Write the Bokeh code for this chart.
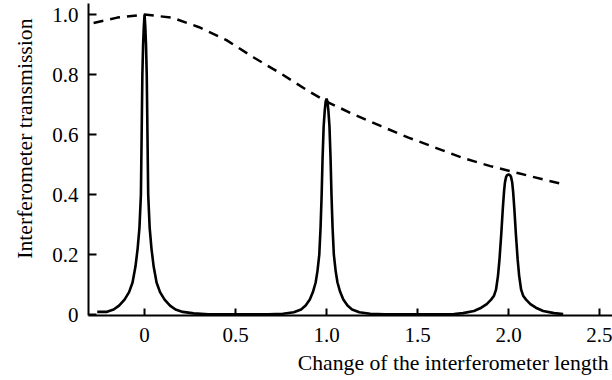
from bokeh.plotting import figure
from bokeh.models import FixedTicker, Range1d, Title
from bokeh.embed import file_html
from bokeh.resources import INLINE

# ---- data ----
x_ticks = [0, 0.5, 1.0, 1.5, 2.0, 2.5]
x_tick_labels = ["0", "0.5", "1.0", "1.5", "2.0", "2.5"]
y_ticks = [0, 0.2, 0.4, 0.6, 0.8, 1.0]
y_tick_labels = ["0", "0.2", "0.4", "0.6", "0.8", "1.0"]

peak_centers = [0.0, 1.0, 2.0]

# half-profiles of each transmission peak: offset from centre, transmission
peak0_dx = [0, 0.004, 0.008, 0.012, 0.016, 0.02, 0.028, 0.038, 0.05, 0.066, 0.085, 0.11, 0.14, 0.17, 0.21, 0.27, 0.35]
peak0_y = [1.0, 0.96, 0.9, 0.8, 0.6, 0.4, 0.29, 0.22, 0.16, 0.107, 0.075, 0.05, 0.03, 0.017, 0.009, 0.004, 0.001]

peak1_dx = [0, 0.005, 0.01, 0.016, 0.022, 0.027, 0.033, 0.04, 0.05, 0.06, 0.075, 0.092, 0.115, 0.14, 0.18, 0.24, 0.32]
peak1_y = [0.72, 0.71, 0.68, 0.627, 0.52, 0.4, 0.29, 0.2, 0.145, 0.107, 0.075, 0.05, 0.03, 0.017, 0.008, 0.003, 0.001]

peak2_dx = [0, 0.008, 0.014, 0.02, 0.025, 0.032, 0.04, 0.05, 0.058, 0.069, 0.08, 0.096, 0.12, 0.15, 0.19, 0.25, 0.3]
peak2_y = [0.467, 0.465, 0.458, 0.44, 0.41, 0.35, 0.27, 0.183, 0.13, 0.083, 0.063, 0.05, 0.035, 0.023, 0.012, 0.005, 0.002]

curve_start = -0.26
curve_end = 2.30

# dashed envelope
env_x = [-0.28, -0.15, 0, 0.15, 0.3, 0.45, 0.6, 0.75, 0.9, 1.0, 1.15, 1.3, 1.45, 1.6, 1.75, 1.9, 2.05, 2.2, 2.3]
env_y = [0.972, 0.99, 1.0, 0.99, 0.958, 0.915, 0.857, 0.803, 0.745, 0.71, 0.667, 0.628, 0.59, 0.556, 0.522, 0.495, 0.472, 0.449, 0.435]

x_label = "Change of the interferometer length"
y_label = "Interferometer transmission"

# ---- build the transmission curve from the peak profiles ----
profiles = [(peak0_dx, peak0_y), (peak1_dx, peak1_y), (peak2_dx, peak2_y)]
cx, cy = [], []
for c, (dx, yy) in zip(peak_centers, profiles):
    left = [(c - d, v) for d, v in zip(dx, yy)][::-1]
    right = [(c + d, v) for d, v in zip(dx[1:], yy[1:])]
    for xv, yv in left + right:
        if curve_start <= xv <= curve_end:
            cx.append(xv)
            cy.append(yv)
cx = [curve_start] + cx + [curve_end]
cy = [cy[0]] + cy + [cy[-1]]

FONT = "Liberation Serif"
FS = "21px"
FS_LABEL = "21.7px"

p = figure(width=612, height=380,
           x_range=Range1d(-0.308, 2.571), y_range=Range1d(-0.003, 1.037),
           output_backend="svg", toolbar_location=None,
           min_border_left=88, min_border_right=0, min_border_top=3, min_border_bottom=65)
p.outline_line_color = None
p.grid.visible = False
p.background_fill_color = "white"
p.border_fill_color = "white"

p.line(env_x, env_y, line_color="black", line_width=2.5, line_dash="10 7")
p.line(cx, cy, line_color="black", line_width=2.6)

for ax in (p.xaxis[0], p.yaxis[0]):
    ax.axis_line_color = "black"
    ax.axis_line_width = 2
    ax.major_tick_line_color = "black"
    ax.major_tick_line_width = 2
    ax.major_tick_out = 0
    ax.minor_tick_line_color = None
    ax.major_label_text_font = FONT
    ax.major_label_text_font_size = FS
    ax.major_label_text_color = "black"

p.xaxis.ticker = FixedTicker(ticks=x_ticks)
p.xaxis.major_label_overrides = {t: l for t, l in zip(x_ticks, x_tick_labels)}
p.xaxis.major_tick_in = 7
p.xaxis.major_label_standoff = 12

p.yaxis.ticker = FixedTicker(ticks=y_ticks)
p.yaxis.major_label_overrides = {t: l for t, l in zip(y_ticks, y_tick_labels)}
p.yaxis.major_tick_in = 8
p.yaxis.major_label_standoff = 10

p.add_layout(Title(text=x_label, align="right", offset=4, standoff=9,
                   text_font=FONT, text_font_size=FS_LABEL, text_font_style="normal",
                   text_color="black"), "below")
p.add_layout(Title(text=y_label, align="right", offset=15, standoff=22,
                   vertical_align="top",
                   text_font=FONT, text_font_size=FS_LABEL, text_font_style="normal",
                   text_color="black"), "left")

open("out.html", "w").write(file_html(p, INLINE))
